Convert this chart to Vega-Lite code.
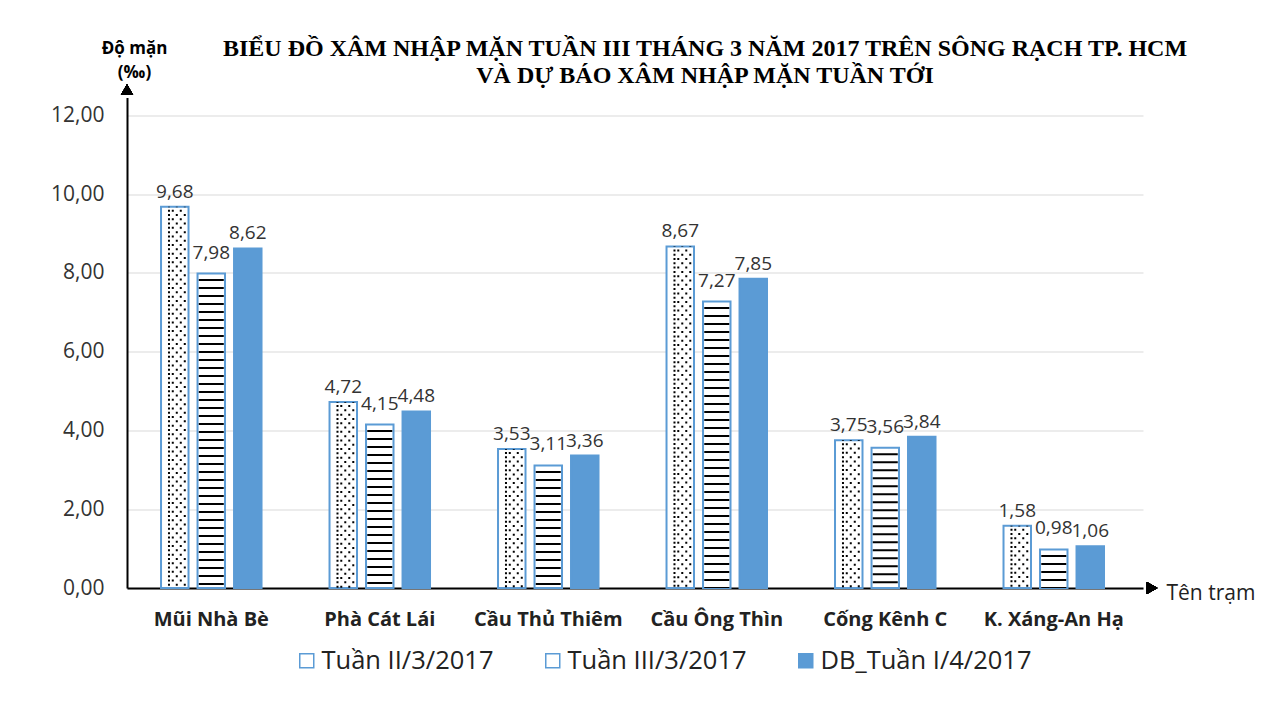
{
  "$schema": "https://vega.github.io/schema/vega-lite/v6.json",
  "width": 1016,
  "height": 490.5,
  "autosize": {"type": "none"},
  "padding": {"left": 127, "top": 97.5, "right": 118, "bottom": 118},
  "background": "white",
  "config": {
    "view": {"stroke": null},
    "font": "Open Sans",
    "locale": {"number": {"decimal": ",", "thousands": ".", "grouping": [3], "currency": ["", ""]}}
  },
  "title": {
    "text": ["BIỂU ĐỒ XÂM NHẬP MẶN TUẦN III THÁNG 3 NĂM 2017 TRÊN SÔNG RẠCH TP. HCM", "VÀ DỰ BÁO XÂM NHẬP MẶN TUẦN TỚI"],
    "font": "Liberation Serif",
    "fontSize": 24,
    "fontWeight": "bold",
    "color": "#000000",
    "anchor": "middle",
    "frame": "group",
    "dx": 70,
    "lineHeight": 27,
    "offset": -49
  },
  "data": {
    "values": [
      {"station": "Mũi Nhà Bè", "series": "Tuần II/3/2017", "value": 9.68},
      {"station": "Phà Cát Lái", "series": "Tuần II/3/2017", "value": 4.72},
      {"station": "Cầu Thủ Thiêm", "series": "Tuần II/3/2017", "value": 3.53},
      {"station": "Cầu Ông Thìn", "series": "Tuần II/3/2017", "value": 8.67},
      {"station": "Cống Kênh C", "series": "Tuần II/3/2017", "value": 3.75},
      {"station": "K. Xáng-An Hạ", "series": "Tuần II/3/2017", "value": 1.58},
      {"station": "Mũi Nhà Bè", "series": "Tuần III/3/2017", "value": 7.98},
      {"station": "Phà Cát Lái", "series": "Tuần III/3/2017", "value": 4.15},
      {"station": "Cầu Thủ Thiêm", "series": "Tuần III/3/2017", "value": 3.11},
      {"station": "Cầu Ông Thìn", "series": "Tuần III/3/2017", "value": 7.27},
      {"station": "Cống Kênh C", "series": "Tuần III/3/2017", "value": 3.56},
      {"station": "K. Xáng-An Hạ", "series": "Tuần III/3/2017", "value": 0.98},
      {"station": "Mũi Nhà Bè", "series": "DB_Tuần I/4/2017", "value": 8.62},
      {"station": "Phà Cát Lái", "series": "DB_Tuần I/4/2017", "value": 4.48},
      {"station": "Cầu Thủ Thiêm", "series": "DB_Tuần I/4/2017", "value": 3.36},
      {"station": "Cầu Ông Thìn", "series": "DB_Tuần I/4/2017", "value": 7.85},
      {"station": "Cống Kênh C", "series": "DB_Tuần I/4/2017", "value": 3.84},
      {"station": "K. Xáng-An Hạ", "series": "DB_Tuần I/4/2017", "value": 1.06}
    ]
  },
  "layer": [
    {
      "encoding": {
        "x": {
          "field": "station", "type": "nominal",
          "sort": ["Mũi Nhà Bè", "Phà Cát Lái", "Cầu Thủ Thiêm", "Cầu Ông Thìn", "Cống Kênh C", "K. Xáng-An Hạ"],
          "scale": {"paddingInner": 0.4036, "paddingOuter": 0.2167, "align": 0.466},
          "axis": {
            "title": "Tên trạm", "titleFontSize": 21, "titleFontWeight": "normal", "titleColor": "#222222",
            "titleX": 1039, "titleY": 11, "titleAlign": "left", "titleBaseline": "alphabetic", "titleAnchor": "start",
            "labelAngle": 0, "labelFontSize": 20, "labelFontWeight": "bold", "labelColor": "#222222", "labelPadding": 21,
            "ticks": false, "domainColor": "#000000", "domainWidth": 2, "grid": false
          }
        },
        "y": {
          "field": "value", "type": "quantitative",
          "scale": {"domain": [0, 12.45], "nice": false, "zero": true},
          "axis": {
            "title": ["Độ mặn", "(‰)"], "titleAngle": 0, "titleFontSize": 17, "titleFontWeight": "bold", "titleColor": "#000000",
            "titleX": 7, "titleY": -44.5, "titleAlign": "center", "titleBaseline": "alphabetic", "titleLineHeight": 24,
            "values": [0, 2, 4, 6, 8, 10, 12], "format": ".2f",
            "labelFontSize": 21, "labelColor": "#333333", "labelPadding": 23,
            "ticks": false, "domainColor": "#000000", "domainWidth": 2,
            "grid": true, "gridColor": "#D9D9D9", "gridWidth": 1
          }
        }
      },
      "layer": [
        {
          "encoding": {
            "xOffset": {
              "field": "series", "type": "nominal",
              "scale": {"domain": ["Tuần II/3/2017", "Tuần III/3/2017", "DB_Tuần I/4/2017"], "paddingInner": 0.247, "paddingOuter": 0}
            }
          },
          "layer": [
            {
              "mark": {"type": "bar", "stroke": "#5B9BD5", "strokeWidth": 2},
              "encoding": {
                "fill": {
                  "field": "series", "type": "nominal",
                  "scale": {"domain": ["Tuần II/3/2017", "Tuần III/3/2017", "DB_Tuần I/4/2017"], "range": ["#FFFFFF", "#FFFFFF", "#5B9BD5"]},
                  "legend": {
                    "title": null, "orient": "none", "legendX": 167, "legendY": 550, "direction": "horizontal",
                    "symbolType": "square", "symbolSize": 196, "symbolStrokeColor": "#5B9BD5", "symbolStrokeWidth": 1.5,
                    "labelFontSize": 25.5, "labelColor": "#222222", "labelOffset": 2, "labelLimit": 400, "columnPadding": 46, "padding": 0
                  }
                }
              }
            },
            {
              "transform": [{"filter": "datum.series === 'Tuần III/3/2017'"}],
              "mark": {"type": "rule", "color": "#000000", "strokeWidth": 25, "strokeDash": [2, 6], "strokeDashOffset": 2.5, "strokeCap": "butt"},
              "encoding": {"y2": {"datum": 0}}
            },
            {
              "transform": [{"filter": "datum.series !== 'Tuần III/3/2017'"}],
              "mark": {"type": "text", "fontSize": 19, "color": "#333333", "baseline": "alphabetic", "dy": -9},
              "encoding": {"text": {"field": "value", "type": "quantitative", "format": ".2f"}}
            },
            {
              "transform": [{"filter": "datum.series === 'Tuần III/3/2017'"}],
              "mark": {"type": "text", "fontSize": 19, "color": "#333333", "baseline": "alphabetic", "dy": -15},
              "encoding": {"text": {"field": "value", "type": "quantitative", "format": ".2f"}}
            }
          ]
        },
        {
          "transform": [{"filter": "datum.series === 'Tuần II/3/2017'"}],
          "mark": {"type": "rule", "color": "#000000", "strokeWidth": 2, "strokeDash": [2, 6.6], "strokeDashOffset": 5.6, "strokeCap": "butt"},
          "encoding": {
            "y2": {"datum": 0},
            "xOffset": {"field": "series", "type": "nominal", "scale": {"domain": ["Tuần II/3/2017", "Tuần III/3/2017", "DB_Tuần I/4/2017"], "paddingInner": 0.247, "paddingOuter": 3.669, "align": 0}}
          }
        },
        {
          "transform": [{"filter": "datum.series === 'Tuần II/3/2017'"}],
          "mark": {"type": "rule", "color": "#000000", "strokeWidth": 2, "strokeDash": [2, 6.6], "strokeDashOffset": 1.3, "strokeCap": "butt"},
          "encoding": {
            "y2": {"datum": 0},
            "xOffset": {"field": "series", "type": "nominal", "scale": {"domain": ["Tuần II/3/2017", "Tuần III/3/2017", "DB_Tuần I/4/2017"], "paddingInner": 0.247, "paddingOuter": 1.065, "align": 0}}
          }
        },
        {
          "transform": [{"filter": "datum.series === 'Tuần II/3/2017'"}],
          "mark": {"type": "rule", "color": "#000000", "strokeWidth": 2, "strokeDash": [2, 6.6], "strokeDashOffset": 5.6, "strokeCap": "butt"},
          "encoding": {
            "y2": {"datum": 0},
            "xOffset": {"field": "series", "type": "nominal", "scale": {"domain": ["Tuần II/3/2017", "Tuần III/3/2017", "DB_Tuần I/4/2017"], "paddingInner": 0.247, "paddingOuter": 0.2337, "align": 0}}
          }
        },
        {
          "transform": [{"filter": "datum.series === 'Tuần II/3/2017'"}],
          "mark": {"type": "rule", "color": "#000000", "strokeWidth": 2, "strokeDash": [2, 6.6], "strokeDashOffset": 1.3, "strokeCap": "butt"},
          "encoding": {
            "y2": {"datum": 0},
            "xOffset": {"field": "series", "type": "nominal", "scale": {"domain": ["Tuần II/3/2017", "Tuần III/3/2017", "DB_Tuần I/4/2017"], "paddingInner": 0.247, "paddingOuter": 0.0326, "align": 1}}
          }
        },
        {
          "transform": [{"filter": "datum.series === 'Tuần II/3/2017'"}],
          "mark": {"type": "rule", "color": "#000000", "strokeWidth": 2, "strokeDash": [2, 6.6], "strokeDashOffset": 5.6, "strokeCap": "butt"},
          "encoding": {
            "y2": {"datum": 0},
            "xOffset": {"field": "series", "type": "nominal", "scale": {"domain": ["Tuần II/3/2017", "Tuần III/3/2017", "DB_Tuần I/4/2017"], "paddingInner": 0.247, "paddingOuter": 0.1024, "align": 1}}
          }
        },
        {
          "transform": [{"filter": "datum.series === 'Tuần II/3/2017'"}],
          "mark": {"type": "rule", "color": "#000000", "strokeWidth": 2, "strokeDash": [2, 6.6], "strokeDashOffset": 1.3, "strokeCap": "butt"},
          "encoding": {
            "y2": {"datum": 0},
            "xOffset": {"field": "series", "type": "nominal", "scale": {"domain": ["Tuần II/3/2017", "Tuần III/3/2017", "DB_Tuần I/4/2017"], "paddingInner": 0.247, "paddingOuter": 0.1795, "align": 1}}
          }
        }
      ],
      "resolve": {"scale": {"xOffset": "independent"}}
    },
    {
      "layer": [
        {
          "mark": {"type": "point", "shape": "triangle-right", "filled": true, "color": "#000000", "size": 150, "opacity": 1},
          "encoding": {
            "x": {"datum": 1.009, "type": "quantitative", "scale": {"domain": [0, 1], "nice": false}, "axis": null},
            "y": {"datum": 0, "type": "quantitative"}
          }
        },
        {
          "mark": {"type": "point", "shape": "triangle-up", "filled": true, "color": "#000000", "size": 150, "opacity": 1},
          "encoding": {
            "x": {"datum": 0, "type": "quantitative", "scale": {"domain": [0, 1], "nice": false}, "axis": null},
            "y": {"datum": 12.65, "type": "quantitative"}
          }
        }
      ]
    }
  ],
  "resolve": {"scale": {"x": "independent"}}
}
